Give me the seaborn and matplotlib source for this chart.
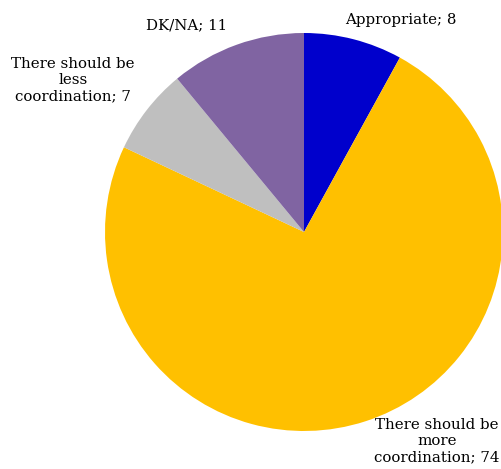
import matplotlib
matplotlib.use("Agg")
import matplotlib.pyplot as plt
import seaborn as sns

# Datos del gráfico
categorias = ["Appropriate", "There should be more coordination",
              "There should be less coordination", "DK/NA"]
valores = [8, 74, 7, 11]
etiquetas = ["Appropriate; 8", "There should be\nmore\ncoordination; 74",
             "There should be\nless\ncoordination; 7", "DK/NA; 11"]
colores = ["#0000CC", "#FFC000", "#BFBFBF", "#8064A2"]

sns.set_theme(style="white")
plt.rcParams["font.family"] = ["DejaVu Serif"]

W, H = 501, 469
cx, cy, r = 304, 232, 199

fig = plt.figure(figsize=(W / 100, H / 100), dpi=100)
ax = fig.add_axes([0, 0, 1, 1])
ax.pie(valores, colors=colores, startangle=90, counterclock=False,
       radius=1, center=(0, 0), wedgeprops={"linewidth": 0})
ax.set_xlim(-cx / r, (W - cx) / r)
ax.set_ylim(-(H - cy) / r, cy / r)
ax.set_aspect("auto")
ax.axis("off")


def px(x, y):
    return (x - cx) / r, (cy - y) / r


pos_etiquetas = [(401, 20), (437, 441), (73, 80), (187, 25)]
for texto, (x, y) in zip(etiquetas, pos_etiquetas):
    tx, ty = px(x, y)
    ax.text(tx, ty, texto, ha="center", va="center", fontsize=10.8,
            color="black", linespacing=1.2)

fig.savefig("out.png", dpi=100)
